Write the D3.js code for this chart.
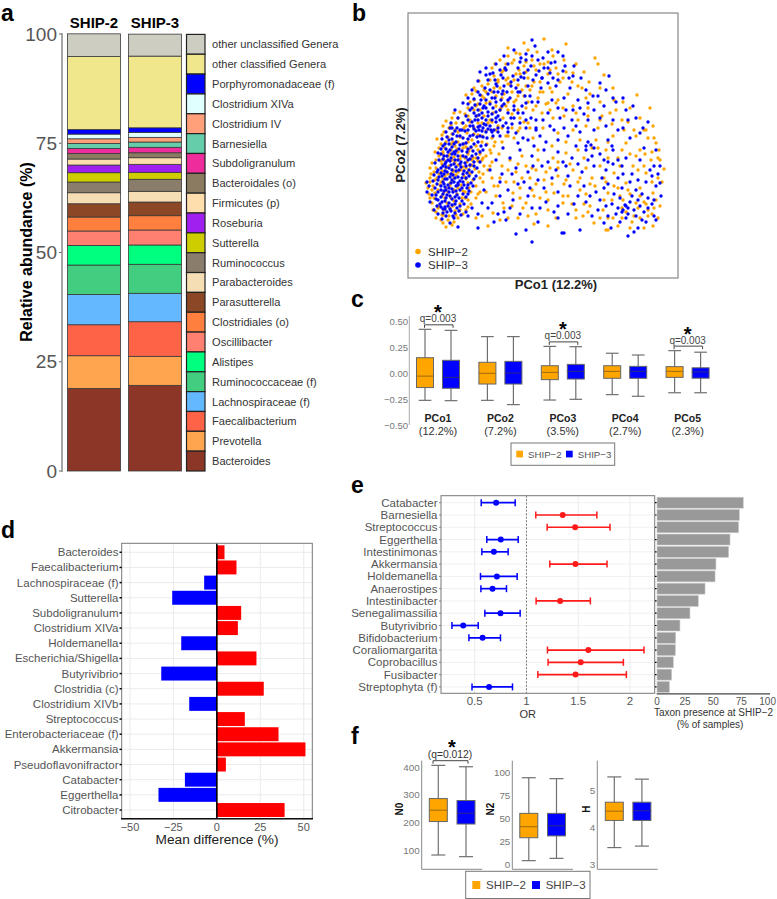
<!DOCTYPE html>
<html><head><meta charset="utf-8">
<script src="https://cdn.jsdelivr.net/npm/d3@7"></script>
<style>html,body{margin:0;background:#fff}svg{display:block}text{font-family:"Liberation Sans",Arial,sans-serif}</style>
</head><body><svg id="c" width="777" height="899"></svg>
<script>
// Panel a
const genera=["other unclassified Genera","other classified Genera","Porphyromonadaceae (f)","Clostridium XIVa","Clostridium IV","Barnesiella","Subdoligranulum","Bacteroidales (o)","Firmicutes (p)","Roseburia","Sutterella","Ruminococcus","Parabacteroides","Parasutterella","Clostridiales (o)","Oscillibacter","Alistipes","Ruminococcaceae (f)","Lachnospiraceae (f)","Faecalibacterium","Prevotella","Bacteroides"];
const genusColors=["#CDCDC1","#F0E68C","#0000FF","#E0FFFF","#FFA07A","#66CDAA","#EE2C9C","#8B7B61","#FFDEAD","#A020F0","#CDCD00","#8B7D6B","#F5DEB3","#8B4726","#FF7F3F","#FF8070","#00FF7F","#43CD80","#63B8FF","#FF6347","#FFA54F","#8B3626"];
const ship2Abundance=[5.2,16.7,1.05,1.07,1.07,1.14,1.14,1.28,1.37,1.76,2.13,2.45,2.52,3.04,3.2,3.3,4.49,6.73,6.93,7.09,7.48,18.9];
const ship3Abundance=[5.03,16.4,1.05,1.14,1.07,1.21,1.24,1.14,1.51,1.83,1.6,2.75,2.45,3.13,3.27,3.43,4.42,6.64,6.5,7.92,6.64,19.6];
const abundanceTicks=[0,25,50,75,100];
const cohorts=["SHIP−2","SHIP−3"];
const cohortColors=["#FFA500","#0000FF"];
// Panel b: scores, plot units, flat pco1,pco2 pairs
const ship2PCo=[38,51,44,53,50,60,33,58,41,62,28,66,36,68,47,67,55,64,31,72,24,75,39,75,52,74,60,71,26,80,34,82,43,80,21,84,49,84,57,80,30,88,38,90,46,88,63,86,25,92,18,95,33,96,42,95,53,93,68,92,29,100,37,102,46,100,58,99,23,104,34,107,50,106,62,104,72,100,28,110,41,112,55,111,67,109,24,115,36,118,47,116,59,116,76,112,31,122,42,124,53,122,65,120,27,126,37,130,49,129,61,127,72,124,33,134,45,136,56,134,68,132,29,139,40,141,52,141,64,138,79,134,36,146,47,148,59,145,70,143,43,153,54,155,66,150,78,147,38,157,50,160,62,158,74,155,46,165,57,164,69,162,82,158,60,170,72,168,85,165,95,160,104,150,90,152,98,142,110,147,78,175,66,178,88,172,100,168,112,160,58,183,74,182,84,186,94,180,106,176,118,170,66,190,80,194,92,190,104,186,116,182,71,197,86,202,98,198,110,193,122,188,84,210,96,208,108,204,120,200,132,196,92,218,104,215,116,212,128,208,140,204,100,222,112,224,124,218,136,214,148,210,129,226,108,225,116,235,136,239,158,234,145,222,156,218,165,205,176,206,187,220,190,214,181,196,170,192,196,203,205,190,152,196,144,186,160,184,130,180,229,183,242,170,222,170,232,160,245,152,251,128,256,109,240,140,226,148,214,158,202,165,192,176,180,170,168,165,155,170,145,160,135,150,125,140,150,145,165,148,178,152,190,150,205,142,218,135,232,128,243,118,250,100,238,105,225,112,210,120,198,128,184,130,170,128,158,125,145,120,130,118,118,112,108,106,122,100,136,98,150,102,165,108,178,110,192,112,206,105,218,95,232,90,245,85,252,72,240,68,228,75,215,78,200,85,187,92,172,88,160,82,146,85,132,80,118,75,105,85,95,75,90,92,84,100,100,60,85,65,80,52,115,70,128,64,140,68,155,75,168,68,182,72,195,68,205,60,218,66,232,60,245,52,222,50,210,52,198,48,186,55,175,62,148,60,35,63,45,72,27,85,55,87,40,86,22,100,32,93,60,95,45,108,70,117,64,113,35,126,58,131,75,120,83,125,87,136,44,160,35,152,68,172,80,155,93,170,100,176,112,150,120,155,134,165,140,175,150,178,165,172,178,180,194,162,208,168,220,156,236,148,248,135,228,122,214,128,200,136,188,138,172,138,158,136,144,132,130,128,114,122,102,118,94,112,82,112,88,82,75,96,124,88,138,86,156,94,172,100,184,100,198,96,210,90,222,84,236,76,246,70,212,82,196,78,178,84,164,74,230,108,244,96,250,120,237,124,150,116,128,108,142,110,106,96,112,80,78,86,70,84,96,70,140,52,126,54,176,74,200,60,214,60,230,70,240,62,148,175,125,168,135,186,118,206,100,200,90,196,76,188,110,182,126,196,142,190,168,214,100,230,120,228,144,228,155,200,
28,60,34,63,40,58,46,56,48,63,35,55,30,70,25,68,42,70,52,68,58,68,63,74,22,80,37,80,46,77,54,80,60,78,68,80,20,90,24,88,36,86,42,92,50,90,57,86,61,90,72,86,22,96,27,98,35,99,44,97,48,103,56,102,65,98,71,106,26,106,31,104,40,104,45,106,53,108,60,106,75,104,22,110,34,114,38,110,50,113,58,110,62,112,80,108,28,118,33,117,44,118,52,119,57,120,64,118,74,118,84,116,35,124,40,122,46,121,50,126,60,124,68,120,78,122,31,130,43,128,47,132,55,130,63,130,70,128,82,128,91,124,38,136,43,134,50,136,60,136,74,136,86,132,34,143,44,144,50,146,56,150,66,144,74,142,84,140,94,136,41,150,48,155,58,152,62,156,70,155,88,148,100,142,52,166,60,162,66,168,76,162,84,156,94,150,106,140,62,176,70,174,76,180,82,176,88,182,92,168,98,172,104,164,110,168,116,156,122,150,64,184,68,187,78,186,86,190,90,198,96,184,102,194,108,178,114,188,120,176,128,172,74,192,82,198,94,206,100,194,106,198,112,204,118,192,124,192,132,186,138,174,87,214,98,214,106,218,111,208,118,216,126,212,132,214,140,216,142,208,150,204,158,206,164,196,174,190,182,184,192,190,206,178,215,176,142,168,156,162,170,158,180,162,192,158,204,154,216,148,228,142,238,148,246,140,252,118,244,126,236,112,222,124,212,112,200,120,190,130,176,120,162,114,150,110,138,106,124,110,110,114,100,108,92,100,86,92,98,96,114,100,128,94,144,94,158,98,170,96,182,94,196,100,206,92,220,88,232,82,248,78,254,96,250,60,238,74,226,62,214,70,204,78,192,60,180,66,168,60,155,82,140,78,126,82,112,90,104,72,110,60,120,62,92,58,74,62,68,60,224,56,236,50,244,64,200,48];
const ship3PCo=[50,51,42,55,34,59,46,60,38,62,30,64,53,63,26,68,35,69,43,67,49,70,40,72,32,74,22,76,47,74,37,77,28,79,54,77,44,79,33,81,24,83,19,86,39,83,49,83,58,81,30,86,36,87,45,86,52,88,27,90,41,90,61,87,33,92,21,92,48,92,56,93,36,94,43,95,25,97,19,96,30,98,52,97,63,95,39,99,47,100,58,100,34,102,26,103,43,104,55,104,68,102,37,107,48,107,30,108,61,108,41,110,53,111,35,112,46,114,27,115,66,112,57,115,38,116,31,118,50,118,43,120,62,119,72,116,36,122,55,122,47,124,30,125,40,126,68,124,59,126,33,129,51,129,44,131,37,134,63,131,75,128,55,134,48,136,41,138,70,136,60,139,34,139,52,142,65,143,45,144,79,140,38,146,57,147,49,150,71,148,62,152,43,155,55,155,84,146,76,154,67,158,50,160,58,162,90,150,71,163,80,162,47,168,62,168,75,170,88,160,98,155,85,170,67,173,55,175,78,178,92,168,103,160,60,180,72,183,84,180,96,174,110,165,64,188,77,190,90,186,102,180,114,172,123,160,65,152,68,147,72,142,75,150,70,158,78,146,82,152,85,142,88,156,74,160,80,166,92,158,66,165,72,174,84,164,88,176,60,158,54,148,42,150,46,126,40,118,36,104,44,98,50,93,38,88,30,78,37,69,45,62,124,238,127,232,106,228,113,220,118,224,130,218,140,226,155,222,157,212,147,216,136,210,123,212,110,210,100,214,92,208,85,205,72,206,80,198,70,197,95,200,105,202,116,200,128,203,142,205,165,202,173,200,133,190,120,192,108,190,96,192,88,194,150,198,162,190,178,188,201,202,192,195,185,182,170,178,156,180,144,178,130,176,118,175,106,172,228,160,240,156,218,168,208,176,196,172,186,168,176,164,164,158,152,160,140,165,128,158,118,150,108,145,120,138,132,142,146,148,160,142,172,146,186,148,198,152,210,148,222,140,236,130,248,128,252,112,242,108,232,118,218,120,205,128,192,124,178,128,164,120,150,126,136,128,124,122,112,128,102,120,95,130,88,118,82,108,94,104,108,110,120,106,134,112,148,108,160,102,174,106,186,112,198,108,210,100,224,104,238,96,248,92,240,80,228,88,214,90,200,94,188,86,176,92,162,92,150,86,136,90,122,90,110,94,100,88,246,62,238,56,228,62,218,72,210,70,200,62,190,68,178,76,166,74,150,72,138,76,124,70,112,64,102,70,92,82,84,75,76,88,124,36,156,45,154,45,220,42,230,50,212,56,196,55,184,62,172,48,150,60,130,56,118,48,108,44,98,58,86,56,70,50,60,62,180,136,183,133,178,132,186,130,217,73,220,70,215,68,222,76,200,138,204,132,210,118,214,112,200,116,194,100,196,90,206,84,232,72,236,66,244,74,218,60,224,82,250,104,246,112,134,200,140,195,96,222,88,214,78,210,122,182,112,186,100,178,94,184,86,186,78,170,104,154,100,146,92,142,110,135,126,132,138,136,150,138,168,132,180,118,158,112,144,100,130,98,116,96,104,104,92,96,
35,65,39,66,42,69,47,65,51,67,37,71,44,73,34,76,41,75,48,77,52,72,29,72,33,71,56,74,38,80,42,82,47,81,51,80,35,84,28,83,55,84,60,84,41,86,48,87,33,88,37,91,44,89,54,90,59,90,29,94,35,96,40,93,46,96,50,95,55,96,60,93,65,92,31,101,37,99,42,101,45,103,50,101,54,100,61,102,66,99,29,106,33,105,39,106,44,108,51,108,56,107,59,105,64,106,33,110,38,111,43,113,48,111,52,114,58,112,62,113,69,110,37,114,42,117,47,118,53,116,60,118,66,116,70,120,35,119,39,122,44,124,50,122,58,121,64,122,33,124,38,129,42,128,48,127,54,127,60,129,65,127,72,126,35,132,41,134,46,134,52,133,58,135,66,134,73,132,78,133,39,141,44,139,49,142,55,140,62,142,69,141,75,141,47,147,52,148,60,148,66,149,72,152,78,153,83,148,44,150,64,156,70,151,74,147,80,149,86,148,90,146,68,162,74,165,78,158,84,158,90,162,95,152,100,150,64,170,70,168,76,172,82,174,88,166,94,172,100,165,106,160,112,155,60,174,66,179,73,178,80,184,87,180,93,178,99,186,106,168,115,165,118,158,128,150,135,158,70,186,82,188,89,192,95,187,103,192,110,186,117,182,124,176,82,204,87,198,93,203,98,208,103,196,110,198,113,201,116,205,120,208,125,198,131,207,134,200,140,210,145,200,148,192,155,207,161,200,166,212,112,216,118,218,124,222,135,220,143,215,150,226,97,210,78,203,150,170,158,168,165,168,172,170,180,175,190,182,198,188,205,180,215,180,225,172,235,150,232,145,220,158,215,150,205,158,192,160,180,158,168,152,156,150,142,152,128,148,115,140,125,112,140,116,155,116,170,114,184,122,196,118,205,114,215,104,230,98,244,102,252,95,253,82,246,78,234,84,222,96,212,80,204,74,192,78,182,82,170,82,160,64,146,66,132,70,120,82,105,78,96,66,90,64,80,70,74,75,70,64,64,70,58,66,226,68,220,64,240,70,230,78,208,64,214,66,198,72,203,50,226,46,234,58,248,58];
// Panel c
const pcoNames=["PCo1","PCo2","PCo3","PCo4","PCo5"];
const pcoShare=["(12.2%)","(7.2%)","(3.5%)","(2.7%)","(2.3%)"];
// whisker low, q1, median, q3, whisker high
const pcoShip2=[[-.263,-.14,-.03,.147,.42],[-.263,-.106,-.003,.103,.35],[-.26,-.064,.006,.07,.256],[-.208,-.051,.016,.07,.19],[-.19,-.042,.016,.061,.215]];
const pcoShip3=[[-.266,-.147,-.042,.122,.41],[-.304,-.106,0,.112,.35],[-.253,-.058,.016,.083,.253],[-.224,-.051,.016,.064,.173],[-.19,-.05,.01,.05,.2]];
const pcoSignificant=[0,2,4];
// Panel d
const diffTaxa=["Bacteroides","Faecalibacterium","Lachnospiraceae (f)","Sutterella","Subdoligranulum","Clostridium XIVa","Holdemanella","Escherichia/Shigella","Butyrivibrio","Clostridia (c)","Clostridium XIVb","Streptococcus","Enterobacteriaceae (f)","Akkermansia","Pseudoflavonifractor","Catabacter","Eggerthella","Citrobacter"];
const meanDifference=[4.4,11.3,-7.3,-25.7,14,12.1,-20.5,22.8,-32,27,-15.9,16.1,35.5,51,5.2,-18.4,-33.6,39];
const diffTicks=[-50,-25,0,25,50];
// Panel e
const orTaxa=["Catabacter","Barnesiella","Streptococcus","Eggerthella","Intestinimonas","Akkermansia","Holdemanella","Anaerostipes","Intestinibacter","Senegalimassilia","Butyrivibrio","Bifidobacterium","Coraliomargarita","Coprobacillus","Fusibacter","Streptophyta (f)"];
const orLow=[.563,1.09,1.2,.617,.569,1.225,.556,.56,1.093,.598,.28,.444,1.203,1.209,1.11,.474];
const orMid=[.707,1.35,1.47,.752,.685,1.473,.714,.672,1.325,.749,.389,.576,1.598,1.524,1.474,.639];
const orHigh=[.891,1.68,1.807,.92,.823,1.778,.91,.807,1.617,.939,.534,.749,2.135,1.936,1.965,.865];
const presence=[76.7,73.2,72.6,64.9,63.7,52.4,51.6,42.7,36.7,29.3,20.4,16.6,16.3,14.5,13,11];
// Panel f
const n0Box=[[83,204,245,287,407],[77,195,234,280,402]];
const n2Box=[[4,29,41,55.6,94.5],[6.5,31,42,55.6,93.5]];
const hBox=[[3.46,4.19,4.44,4.68,5.36],[3.5,4.19,4.45,4.68,5.3]];

const svg=d3.select("#c");
const txt=(g,x,y,s,o={})=>g.append("text").attr("x",x).attr("y",y).attr("text-anchor",o.a||"start").attr("dominant-baseline","central").attr("font-size",o.s||12).attr("font-weight",o.w||"normal").attr("fill",o.f||"#333").attr("transform",o.r?`rotate(${o.r} ${x} ${y})`:null).text(s);
const ln=(g,x1,y1,x2,y2,c="#666",w=1,d=null)=>g.append("line").attr("x1",x1).attr("y1",y1).attr("x2",x2).attr("y2",y2).attr("stroke",c).attr("stroke-width",w).attr("stroke-dasharray",d);
const star=(g,x,y,s=22)=>g.append("text").attr("x",x).attr("y",y+s*0.45).attr("text-anchor","middle").attr("font-size",s).attr("font-weight","bold").attr("fill","#000").text("*");

// panel letters
[["a",1,20.5],["b",352,20.5],["c",351,307],["d",1,538],["e",351,493],["f",351,744]].forEach(([l,x,y])=>svg.append("text").attr("x",x).attr("y",y).attr("font-size",23).attr("font-weight","bold").attr("fill","#000").text(l));

// ---- a
const ga=svg.append("g");
const ya=d3.scaleLinear().domain([0,100]).range([471,34]);
const xa=d3.scaleBand().domain(cohorts).range([67.5,181.5]).paddingInner(.13);
abundanceTicks.forEach(v=>{ln(ga,59,ya(v),62,ya(v),"#666",1);txt(ga,57,ya(v),v,{a:"end",s:19,f:"#555"});});
ln(ga,62,33,62,472,"#888",1.5);
[ship2Abundance,ship3Abundance].forEach((vals,i)=>{
  const rev=vals.slice().reverse(),cols=genusColors.slice().reverse(),cum=d3.cumsum(rev);
  ga.selectAll(null).data(rev).join("rect").attr("x",xa(cohorts[i])).attr("width",xa.bandwidth())
    .attr("y",(d,j)=>ya(cum[j])).attr("height",d=>ya(0)-ya(d))
    .attr("fill",(d,j)=>cols[j]).attr("stroke","#3a3a3a").attr("stroke-width",.8);
  txt(ga,xa(cohorts[i])+xa.bandwidth()/2,22,cohorts[i].replace("−","-"),{a:"middle",s:15,w:"bold",f:"#000"});
});
txt(ga,26,252,"Relative abundance (%)",{a:"middle",s:16,w:"bold",f:"#000",r:-90});
const ly=d3.scaleBand().domain(genera).range([34.4,471]);
ga.selectAll(null).data(genera).join("rect").attr("x",186.5).attr("width",18.5).attr("y",d=>ly(d)).attr("height",ly.bandwidth())
  .attr("fill",(d,i)=>genusColors[i]).attr("stroke","#222").attr("stroke-width",1.2);
genera.forEach(d=>txt(ga,212,ly(d)+ly.bandwidth()/2,d,{s:11.1,f:"#333"}));

// ---- b
const gb=svg.append("g");
gb.append("rect").attr("x",408).attr("y",13).attr("width",270).attr("height",265).attr("fill","none").attr("stroke","#888").attr("stroke-width",1.2);
const xb=d3.scaleLinear().domain([0,270]).range([408,678]);
const yb=d3.scaleLinear().domain([0,265]).range([278,13]);
[[ship2PCo,cohortColors[0]],[ship3PCo,cohortColors[1]]].forEach(([arr,c])=>{
  const pts=d3.range(0,arr.length,2).map(i=>[arr[i],arr[i+1]]);
  gb.selectAll(null).data(pts).join("circle").attr("cx",d=>xb(d[0])).attr("cy",d=>yb(d[1])).attr("r",1.7).attr("fill",c);
});
cohorts.forEach((n,i)=>{const y=251.5+i*13.5;gb.append("circle").attr("cx",418).attr("cy",y).attr("r",2.8).attr("fill",cohortColors[i]);txt(gb,428,y,n,{s:11.5,f:"#333"});});
txt(gb,556,284,"PCo1 (12.2%)",{a:"middle",s:13,w:"bold",f:"#222"});
txt(gb,400,145,"PCo2 (7.2%)",{a:"middle",s:13,w:"bold",f:"#222",r:-90});

function box(g,cx,w,st,y,c,cap){
  const cw=cap||w*.75;
  ln(g,cx,y(st[0]),cx,y(st[4]),"#707070",1.2);
  ln(g,cx-cw/2,y(st[0]),cx+cw/2,y(st[0]),"#707070",1.2);
  ln(g,cx-cw/2,y(st[4]),cx+cw/2,y(st[4]),"#707070",1.2);
  g.append("rect").attr("x",cx-w/2).attr("width",w).attr("y",y(st[3])).attr("height",y(st[1])-y(st[3])).attr("fill",c).attr("stroke","#666").attr("stroke-width",1);
  ln(g,cx-w/2,y(st[2]),cx+w/2,y(st[2]),c==="#FFA500"?"#9a6a10":"#2a2a80",1);
}
function bracket(g,x1,x2,y){g.append("path").attr("d",`M${x1},${y+3}V${y}H${x2}V${y+3}`).attr("fill","none").attr("stroke","#444").attr("stroke-width",1);}

// ---- c
const gc=svg.append("g");
const yc=d3.scaleLinear().domain([-.5,.5]).range([425,321]);
const xc=d3.scalePoint().domain(pcoNames).range([438,687.6]);
ln(gc,409.3,316,409.3,425,"#aaa",1);
[-.5,-.25,0,.25,.5].forEach(v=>txt(gc,408,yc(v),d3.format(".2f")(v),{a:"end",s:9.5,f:"#777"}));
pcoNames.forEach((n,i)=>{
  box(gc,xc(n)-13,17,pcoShip2[i],yc,cohortColors[0],12.7);
  box(gc,xc(n)+13,17,pcoShip3[i],yc,cohortColors[1],12.7);
  txt(gc,xc(n),418,n,{a:"middle",s:10.5,w:"bold",f:"#222"});
  txt(gc,xc(n),430.5,pcoShare[i],{a:"middle",s:11,f:"#333"});
});
pcoSignificant.forEach(i=>{
  const by=yc(pcoShip2[i][4])-4.5,x=xc(pcoNames[i]);
  bracket(gc,x-13.5,x+15,by);
  txt(gc,x,by-6,"q=0.003",{a:"middle",s:10,f:"#444"});
  star(gc,x,by-14.5,20);
});
gc.append("rect").attr("x",511).attr("y",443).attr("width",103.7).attr("height",22.3).attr("fill","#fff").attr("stroke","#777");
[[516.3,528],[566,577.7]].forEach(([sx,tx],i)=>{
  gc.append("rect").attr("x",sx).attr("y",450.7).attr("width",6.7).attr("height",6.7).attr("fill",cohortColors[i]);
  txt(gc,tx,454.3,cohorts[i],{s:9.7,f:"#555"});
});

// ---- d
const gd=svg.append("g");
const xd=d3.scaleLinear().domain([-50,50]).range([130,303.7]);
const yd=d3.scaleBand().domain(diffTaxa).range([544.7,817.6]).paddingInner(.08).paddingOuter(.04);
diffTicks.forEach(v=>ln(gd,xd(v),543.3,xd(v),818.7,"#ebebeb",1));
diffTaxa.forEach(t=>ln(gd,121.7,yd(t)+yd.bandwidth()/2,312.3,yd(t)+yd.bandwidth()/2,"#ebebeb",1));
gd.selectAll(null).data(meanDifference).join("rect").attr("x",d=>xd(Math.min(0,d))).attr("width",d=>Math.abs(xd(d)-xd(0)))
  .attr("y",(d,i)=>yd(diffTaxa[i])).attr("height",yd.bandwidth()).attr("fill",d=>d<0?"#0000FF":"#FF0000");
ln(gd,xd(0),543.3,xd(0),818.7,"#000",1.6);
gd.append("rect").attr("x",121.7).attr("y",543.3).attr("width",190.6).attr("height",275.4).attr("fill","none").attr("stroke","#777").attr("stroke-width",1);
ln(gd,121,818.7,313,818.7,"#111",1.6);
diffTaxa.forEach(t=>{const y=yd(t)+yd.bandwidth()/2;ln(gd,119.5,y,121.7,y,"#000",1.5);txt(gd,118.5,y,t,{a:"end",s:11.5,f:"#555"});});
diffTicks.forEach(v=>txt(gd,xd(v),826.5,d3.format("d")(v),{a:"middle",s:11,f:"#555"}));
txt(gd,217,839.5,"Mean difference (%)",{a:"middle",s:13.7,f:"#222"});

// ---- e
const ge=svg.append("g");
const xe=d3.scaleLinear().domain([.5,2]).range([474.7,630]);
const ye=d3.scaleBand().domain(orTaxa).range([496.56,693.04]);
const cy=t=>ye(t)+ye.bandwidth()/2;
[.5,1.5,2].forEach(v=>ln(ge,xe(v),495.7,xe(v),693.3,"#ebebeb",1));
orTaxa.forEach(t=>ln(ge,441,cy(t),654.7,cy(t),"#f0f0f0",1));
ln(ge,xe(1),495.7,xe(1),693.3,"#555",.8,"2,1.5");
orTaxa.forEach((t,i)=>{
  const c=orMid[i]<1?"#0000FF":"#FF1A1A",y=cy(t);
  ln(ge,xe(orLow[i]),y,xe(orHigh[i]),y,c,1.7);
  ln(ge,xe(orLow[i]),y-3.5,xe(orLow[i]),y+3.5,c,1.5);
  ln(ge,xe(orHigh[i]),y-3.5,xe(orHigh[i]),y+3.5,c,1.5);
  ge.append("circle").attr("cx",xe(orMid[i])).attr("cy",y).attr("r",3).attr("fill",c);
  ln(ge,439,y,441,y,"#888",1);
  txt(ge,437.5,y,t,{a:"end",s:11.5,f:"#555"});
});
ge.append("rect").attr("x",441).attr("y",495.7).attr("width",213.7).attr("height",197.6).attr("fill","none").attr("stroke","#777").attr("stroke-width",1);
[.5,1,1.5,2].forEach(v=>txt(ge,xe(v),701,v,{a:"middle",s:11.5,f:"#555"}));
txt(ge,527.7,714,"OR",{a:"middle",s:11,f:"#333"});
const xp=d3.scaleLinear().domain([0,100]).range([657,769.5]);
ge.selectAll(null).data(presence).join("rect").attr("x",xp(0)).attr("width",d=>xp(d)-xp(0)).attr("y",(d,i)=>ye(orTaxa[i])+.65).attr("height",ye.bandwidth()-1.3)
  .attr("fill","#999").attr("stroke","#ccc").attr("stroke-width",.6);
orTaxa.forEach(t=>ln(ge,655,cy(t),656.6,cy(t),"#000",1.2));
ln(ge,656.6,693.8,770,693.8,"#444",1.2);
[0,25,50,75].forEach(v=>txt(ge,xp(v),701,v,{a:"middle",s:10,f:"#555"}));
txt(ge,776,701,100,{a:"end",s:10,f:"#555"});
txt(ge,713.5,712.5,"Taxon presence at SHIP−2",{a:"middle",s:10,f:"#333"});
txt(ge,710,724,"(% of samples)",{a:"middle",s:10,f:"#333"});

// ---- f
const gf=svg.append("g");
const ny0=d3.scaleLinear().domain([100,400]).range([850.3,767.3]);
const ny2=d3.scaleLinear().domain([0,100]).range([864.3,772.7]);
const nyH=d3.scaleLinear().domain([3,5]).range([864.7,790.3]);
[[421.7,482.3,ny0,[100,200,300,400],n0Box,[438.3,466],"N0",399.5],
 [512.3,573,ny2,[0,25,50,75,100],n2Box,[528.8,556.5],"N2",490],
 [597.3,657.7,nyH,[3,4,5],hBox,[614.3,641.9],"H",586]].forEach(([ax,ex,y,ticks,st,cx,lab,lx])=>{
  ln(gf,ax,760.7,ax,869.3,"#888",1);ln(gf,ax,869.3,ex,869.3,"#888",1);
  ticks.forEach(v=>txt(gf,ax-2,y(v),v,{a:"end",s:9.8,f:"#777"}));
  box(gf,cx[0],18,st[0],y,cohortColors[0],14);box(gf,cx[1],18,st[1],y,cohortColors[1],14);
  txt(gf,lx,809,lab,{a:"middle",s:10,w:"bold",f:"#111",r:-90});
});
bracket(gf,433,468,760.7);
txt(gf,450,754,"(q=0.012)",{a:"middle",s:10.3,f:"#333"});
star(gf,452,745,20);
gf.append("rect").attr("x",465.7).attr("y",871.3).attr("width",124.3).attr("height",27.2).attr("fill","#fff").attr("stroke","#777");
[[472.3,486],[532,545.7]].forEach(([sx,tx],i)=>{
  gf.append("rect").attr("x",sx).attr("y",881).attr("width",8).attr("height",8).attr("fill",cohortColors[i]);
  txt(gf,tx,885,cohorts[i],{s:11.5,f:"#444"});
});
</script></body></html>
